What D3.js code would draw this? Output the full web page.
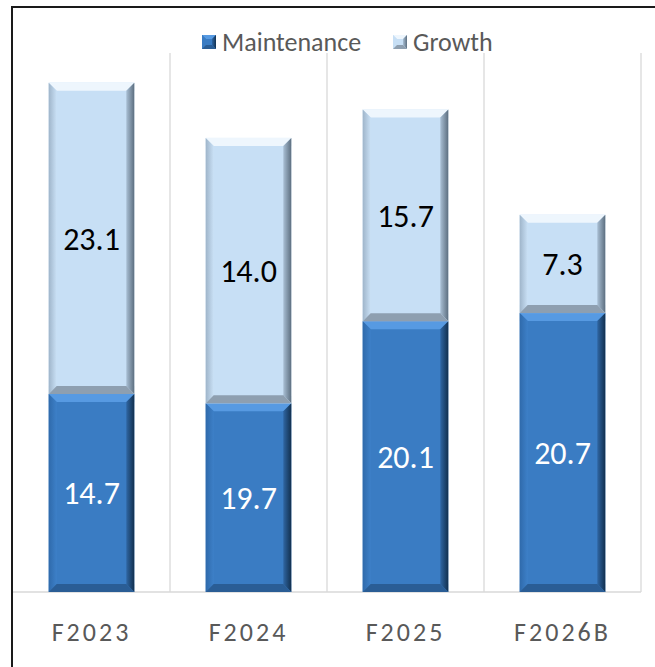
<!DOCTYPE html>
<html>
<head>
<meta charset="utf-8">
<script src="https://cdn.jsdelivr.net/npm/d3@7"></script>
<style>
  html, body { margin: 0; padding: 0; background: #fff; }
  svg { display: block; }
</style>
</head>
<body>
<svg id="chart" width="655" height="667"></svg>
<script>
const categories = ["F2023", "F2024", "F2025", "F2026B"];
// bar heights as drawn in the picture
const maintenance = [14.7, 14.0, 20.1, 20.7];
const growth = [23.1, 19.7, 15.7, 7.3];
// labels as printed in the picture
const maintenanceLabels = ["14.7", "19.7", "20.1", "20.7"];
const growthLabels = ["23.1", "14.0", "15.7", "7.3"];
const seriesNames = ["Maintenance", "Growth"];
const yDomain = [0, 40];

const W = 655, H = 667;
const plot = { left: 13, right: 641, top: 53, bottom: 592 };
const FONT = "Carlito, Calibri, Lato, 'Open Sans', sans-serif";

const svg = d3.select("#chart");

const x = d3.scaleBand().domain(categories).range([plot.left, plot.right]).padding(0);
const y = d3.scaleLinear().domain(yDomain).range([plot.bottom, plot.top]);
const barW = x.bandwidth() * 0.545;

const defs = svg.append("defs");
function grad(id, stops, x1, y1, x2, y2) {
  const g = defs.append("linearGradient").attr("id", id)
    .attr("x1", x1).attr("y1", y1).attr("x2", x2).attr("y2", y2);
  stops.forEach(s => g.append("stop").attr("offset", s[0]).attr("stop-color", s[1]));
}
grad("mRight", [[0, "#2f66a3"], [1, "#12304f"]], "0", "0", "1", "0");
grad("gRight", [[0, "#a9bfd4"], [1, "#5d6f80"]], "0", "0", "1", "0");
grad("mLeft", [[0, "#2f6aab"], [1, "#3d80c8"]], "0", "0", "1", "0");
grad("gLeft", [[0, "#9fb5ca"], [1, "#c9e0f5"]], "0", "0", "1", "0");

const palette = {
  Maintenance: { face: "#3a7cc3", top: "#579ae2", left: "url(#mLeft)", right: "url(#mRight)", bottom: "#2a5d95" },
  Growth: { face: "#c7dff5", top: "#eef6fd", left: "url(#gLeft)", right: "url(#gRight)", bottom: "#8e9fb0" }
};
const labels = { Maintenance: maintenanceLabels, Growth: growthLabels };

const sepX = categories.map(c => x(c) + x.bandwidth());
svg.append("g").selectAll("line").data(sepX).join("line")
  .attr("x1", d => d).attr("x2", d => d)
  .attr("y1", plot.top).attr("y2", plot.bottom)
  .attr("stroke", "#d9d9d9").attr("stroke-width", 1.3);

svg.append("line")
  .attr("x1", plot.left).attr("x2", plot.right)
  .attr("y1", plot.bottom).attr("y2", plot.bottom)
  .attr("stroke", "#d9d9d9").attr("stroke-width", 1.5);

const rows = categories.map((c, i) => ({ cat: c, idx: i, Maintenance: maintenance[i], Growth: growth[i] }));
const stack = d3.stack().keys(seriesNames)(rows);

function bevelBar(g, x0, y0, w, h, pal, bev) {
  const b = Math.min(bev || 8, h / 2);
  const x1 = x0 + w, y1 = y0 + h;
  g.append("rect").attr("x", x0).attr("y", y0).attr("width", w).attr("height", h).attr("fill", pal.face);
  const poly = (pts, fill) => g.append("polygon").attr("points", pts.map(p => p.join(",")).join(" ")).attr("fill", fill);
  poly([[x0, y0], [x1, y0], [x1 - b, y0 + b], [x0 + b, y0 + b]], pal.top);
  poly([[x0, y0], [x0 + b, y0 + b], [x0 + b, y1 - b], [x0, y1]], pal.left);
  poly([[x1, y0], [x1, y1], [x1 - b, y1 - b], [x1 - b, y0 + b]], pal.right);
  poly([[x0, y1], [x0 + b, y1 - b], [x1 - b, y1 - b], [x1, y1]], pal.bottom);
}

const barsG = svg.append("g");
stack.forEach(layer => {
  const key = layer.key;
  layer.forEach(d => {
    const cat = d.data.cat;
    const bx = x(cat) + (x.bandwidth() - barW) / 2;
    const top = y(d[1]), bot = y(d[0]);
    const g = barsG.append("g");
    bevelBar(g, bx, top, barW, bot - top, palette[key]);
    barsG.append("text")
      .attr("x", bx + barW / 2)
      .attr("y", (top + bot) / 2)
      .attr("dy", "0.36em")
      .attr("text-anchor", "middle")
      .attr("font-family", FONT)
      .attr("font-size", 32)
      .attr("fill", key === "Maintenance" ? "#ffffff" : "#000000")
      .text(labels[key][d.data.idx]);
  });
});

const xAxis = d3.axisBottom(x).tickSize(0).tickPadding(0);
const xg = svg.append("g").attr("transform", `translate(0,${plot.bottom})`).call(xAxis);
xg.select(".domain").remove();
xg.selectAll("text")
  .attr("y", 40)
  .attr("dy", "0.36em")
  .attr("font-family", FONT)
  .attr("font-size", 26)
  .attr("letter-spacing", "3px")
  .attr("fill", "#595959");

const legendItems = [
  { name: "Maintenance", x: 202, pal: palette.Maintenance },
  { name: "Growth", x: 393, pal: palette.Growth }
];
const lg = svg.append("g");
legendItems.forEach(it => {
  const g = lg.append("g");
  bevelBar(g, it.x, 35, 14, 14, { ...it.pal, left: it.pal.face }, 4);
  g.append("text")
    .attr("x", it.x + 20)
    .attr("y", 42)
    .attr("dy", "0.36em")
    .attr("font-family", FONT)
    .attr("font-size", 26)
    .attr("fill", "#595959")
    .text(it.name);
});

svg.append("path")
  .attr("d", `M12,${H} L12,7 L${W},7`)
  .attr("fill", "none")
  .attr("stroke", "#1a1a1a")
  .attr("stroke-width", 2);
</script>
</body>
</html>
